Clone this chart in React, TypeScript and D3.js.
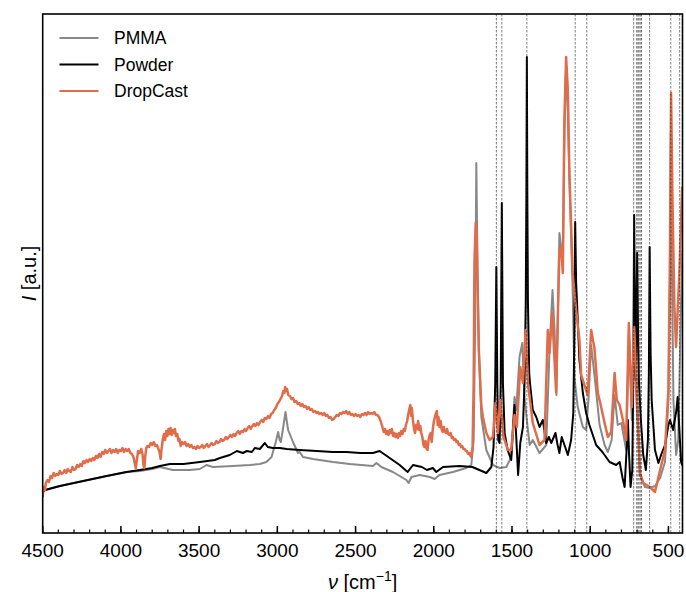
import React from "react";
import * as d3 from "d3";

// wavenumber (cm^-1), intensity (a.u.)
const pmma: [number, number][] = [
  [4500,41],[4485,43],[4390,47],[4241,52],[4091,57],[3964,61],[3878,62],[3800,64],[3751,66],[3668,63],[3560,63],[3495,64],[3453,68],[3412,66],[3284,67],[3176,68],[3112,69],[3070,71],[3037,76],[3010,91],[2995,101],[2985,93],[2978,91],[2965,103],[2948,121],[2940,112],[2931,103],[2900,91],[2868,80],[2857,81],[2836,76],[2772,74],[2644,71],[2537,69],[2389,67],[2367,70],[2335,66],[2261,61],[2175,53],[2161,50],[2143,56],[2090,58],[2025,56],[1995,54],[1963,58],[1878,61],[1792,65],[1760,68],[1745,93],[1736,200],[1728,370],[1720,260],[1712,183],[1696,116],[1664,83],[1622,68],[1579,65],[1536,66],[1505,76],[1484,136],[1473,123],[1452,176],[1434,190],[1420,136],[1405,113],[1387,88],[1367,93],[1324,80],[1281,88],[1260,183],[1241,243],[1228,203],[1216,138],[1197,300],[1175,273],[1165,400],[1154,468],[1143,420],[1133,353],[1112,243],[1101,156],[1080,126],[1047,106],[1026,103],[1011,133],[994,188],[973,158],[940,108],[908,88],[887,81],[863,93],[844,138],[824,108],[801,110],[770,83],[753,198],[734,113],[719,188],[702,123],[682,58],[650,46],[618,45],[586,47],[553,55],[522,71],[500,133],[490,250],[485,400],[480,300],[468,133],[451,78],[437,93],[419,233],[410,283]
];

const powder: [number, number][] = [
  [4500,41],[4485,43],[4390,47],[4241,52],[4091,57],[3964,61],[3878,63],[3800,65],[3751,67],[3687,69],[3600,69],[3495,71],[3400,73],[3367,75],[3304,78],[3259,82],[3220,80],[3195,82],[3163,81],[3144,85],[3112,84],[3080,90],[3061,86],[3029,85],[2984,85],[2940,84],[2857,83],[2750,82],[2644,81],[2559,81],[2470,80],[2389,80],[2346,82],[2282,75],[2218,68],[2167,61],[2133,68],[2076,66],[2044,63],[2006,65],[1984,61],[1941,66],[1836,67],[1753,66],[1664,60],[1632,66],[1618,86],[1607,150],[1600,266],[1594,150],[1588,93],[1579,90],[1572,150],[1565,330],[1558,150],[1547,100],[1528,83],[1505,73],[1484,128],[1475,103],[1461,58],[1447,90],[1430,106],[1420,150],[1412,230],[1408,340],[1405,476],[1402,340],[1398,230],[1390,160],[1385,150],[1367,123],[1345,116],[1324,106],[1303,113],[1281,90],[1264,96],[1249,90],[1222,100],[1211,90],[1197,80],[1182,96],[1158,85],[1143,78],[1122,93],[1108,120],[1101,200],[1096,311],[1090,250],[1085,233],[1069,173],[1047,140],[1026,120],[1005,108],[962,88],[922,81],[876,71],[834,68],[812,71],[793,55],[780,46],[765,90],[759,113],[752,80],[742,46],[731,63],[725,150],[719,318],[713,200],[708,153],[700,280],[694,200],[689,153],[676,113],[661,78],[644,63],[631,93],[625,160],[620,286],[614,180],[607,133],[586,83],[564,70],[547,78],[522,88],[500,108],[490,113],[470,103],[449,123],[441,136],[430,103],[419,71],[410,67]
];

const dropCast: [number, number][] = [
  [4500,36],[4495,44],[4490,46],[4485,43],[4480,50],[4470,53],[4460,51],[4450,57],[4440,55],[4430,60],[4420,57],[4410,59],[4400,58],[4390,62],[4380,59],[4370,60],[4360,63],[4350,60],[4340,64],[4330,62],[4320,61],[4310,66],[4300,63],[4290,64],[4280,68],[4270,66],[4260,69],[4250,67],[4240,72],[4230,70],[4220,73],[4210,71],[4200,74],[4190,72],[4180,75],[4170,73],[4160,77],[4150,75],[4140,79],[4130,76],[4120,81],[4110,79],[4100,83],[4090,80],[4080,82],[4070,84],[4060,80],[4050,83],[4040,81],[4030,84],[4020,80],[4010,83],[4000,82],[3990,85],[3980,81],[3970,84],[3960,82],[3950,84],[3940,80],[3930,79],[3920,76],[3912,70],[3905,65],[3898,73],[3890,82],[3880,80],[3870,84],[3862,79],[3856,68],[3850,65],[3845,76],[3838,85],[3830,87],[3820,86],[3810,90],[3800,88],[3790,91],[3780,87],[3770,88],[3760,84],[3752,80],[3746,74],[3740,84],[3732,94],[3725,99],[3718,93],[3710,102],[3703,97],[3696,104],[3690,99],[3683,105],[3676,98],[3670,103],[3662,100],[3655,104],[3648,97],[3640,99],[3632,92],[3625,94],[3618,87],[3610,91],[3600,89],[3590,91],[3580,87],[3570,89],[3560,86],[3550,88],[3540,85],[3530,86],[3520,84],[3510,87],[3500,85],[3490,86],[3480,88],[3470,85],[3460,87],[3450,89],[3440,86],[3430,88],[3420,90],[3410,88],[3400,89],[3390,92],[3380,90],[3370,91],[3360,94],[3350,92],[3340,93],[3330,96],[3320,94],[3310,96],[3300,98],[3290,96],[3280,99],[3270,97],[3260,100],[3250,102],[3240,99],[3230,102],[3220,101],[3210,104],[3200,102],[3190,105],[3180,107],[3170,104],[3160,107],[3150,109],[3140,107],[3130,110],[3120,108],[3110,111],[3100,113],[3090,111],[3080,115],[3070,114],[3060,117],[3050,115],[3040,119],[3030,120],[3020,123],[3010,125],[3000,129],[2990,131],[2980,134],[2970,137],[2962,142],[2955,140],[2950,146],[2944,142],[2938,144],[2930,138],[2920,137],[2910,134],[2900,135],[2890,131],[2880,132],[2870,129],[2860,130],[2850,127],[2840,129],[2830,126],[2820,127],[2810,124],[2800,126],[2790,123],[2780,124],[2770,121],[2760,122],[2750,120],[2740,121],[2730,119],[2720,120],[2710,118],[2700,120],[2690,117],[2680,118],[2670,115],[2660,116],[2650,113],[2640,114],[2630,116],[2620,118],[2610,117],[2600,120],[2590,119],[2580,121],[2570,120],[2560,122],[2550,119],[2540,121],[2530,118],[2520,119],[2510,117],[2500,119],[2490,117],[2480,118],[2470,116],[2460,119],[2450,118],[2440,120],[2430,118],[2420,121],[2410,119],[2400,120],[2390,119],[2380,121],[2370,118],[2360,118],[2350,116],[2340,112],[2330,107],[2320,101],[2312,104],[2305,99],[2298,102],[2290,98],[2282,103],[2275,100],[2268,104],[2260,97],[2252,100],[2245,96],[2238,99],[2230,95],[2222,100],[2215,97],[2208,102],[2200,99],[2192,104],[2185,102],[2178,108],[2170,112],[2163,119],[2156,124],[2150,128],[2145,117],[2140,125],[2133,112],[2126,104],[2120,100],[2113,108],[2106,104],[2100,112],[2093,103],[2086,107],[2080,100],[2073,96],[2066,88],[2060,86],[2053,92],[2046,84],[2040,83],[2033,93],[2026,98],[2020,100],[2013,91],[2006,104],[2000,111],[1993,116],[1986,120],[1980,122],[1975,108],[1970,116],[1963,106],[1956,112],[1950,104],[1943,101],[1936,106],[1930,102],[1922,100],[1915,104],[1908,99],[1900,98],[1892,100],[1885,95],[1878,96],[1870,93],[1862,94],[1855,91],[1848,92],[1840,88],[1832,89],[1825,86],[1818,87],[1810,84],[1802,84],[1795,82],[1788,82],[1780,79],[1772,80],[1765,77],[1760,76],[1752,86],[1745,150],[1740,270],[1732,310],[1726,300],[1718,230],[1712,183],
  [1696,127],[1686,116],[1664,100],[1643,93],[1622,96],[1605,130],[1590,100],[1575,133],[1554,96],[1526,83],[1505,83],[1484,118],[1469,106],[1447,166],[1430,150],[1413,203],[1398,150],[1367,110],[1324,88],[1292,93],[1271,203],[1260,180],[1243,220],[1218,141],[1197,283],[1186,286],[1175,260],[1165,413],[1154,476],[1143,443],[1133,360],[1112,260],[1090,223],[1069,193],[1058,158],[1037,148],[1015,138],[994,203],[973,185],[951,140],[930,126],[908,110],[887,96],[866,101],[844,160],[830,133],[812,128],[791,113],[770,93],[753,210],[734,126],[719,206],[704,153],[692,103],[682,60],[661,50],[618,46],[586,41],[553,63],[522,83],[500,143],[490,283],[483,440],[474,333],[462,226],[451,186],[430,260],[412,346]
];

const markerLines = [1600, 1565, 1405, 1096, 1022, 722, 703, 695, 688, 680, 672, 620, 485, 428];
const majorTicks = [4500, 4000, 3500, 3000, 2500, 2000, 1500, 1000, 500];
const minorTicks = d3.range(4500, 450, -100);

const seriesNames = ["PMMA", "Powder", "DropCast"];
const seriesColors = ["#888888", "#000000", "#e06c4a"];
const seriesWidths = [2, 2, 2.5];
const seriesData = [pmma, powder, dropCast];

const W = 686, H = 592;
const L = 42.7, R = 682.5, T = 14, B = 533;

export default function App() {
  const x = d3.scaleLinear().domain([4500, 410]).range([L, R]);
  const y = d3.scaleLinear().domain([0, 519]).range([B, T]);
  const line = d3.line<[number, number]>().x(d => x(d[0])).y(d => y(d[1]));
  const font = "'Liberation Sans', Arial, sans-serif";
  return (
    <div style={{ position: "absolute", left: 0, top: 0 }}>
      <svg width={W} height={H} style={{ display: "block", background: "#fff" }} fontFamily={font}>
        <defs>
          <clipPath id="plotclip"><rect x={L} y={T} width={R - L} height={B - T} /></clipPath>
        </defs>
        <g clipPath="url(#plotclip)">
          {seriesData.map((d, i) => (
            <path key={i} d={line(d) || ""} fill="none" stroke={seriesColors[i]} strokeWidth={seriesWidths[i]} strokeLinejoin="round" />
          ))}
          {markerLines.map((m, i) => (
            <line key={i} x1={x(m)} x2={x(m)} y1={T} y2={B} stroke="#222" strokeWidth={0.6} strokeDasharray="2.5,1.5" />
          ))}
        </g>
        {minorTicks.map(t => (
          <line key={"m" + t} x1={x(t)} x2={x(t)} y1={B} y2={B - 3.5} stroke="#000" strokeWidth={1.2} />
        ))}
        {majorTicks.map(t => (
          <g key={"M" + t}>
            <line x1={x(t)} x2={x(t)} y1={B} y2={B - 7} stroke="#000" strokeWidth={1.5} />
            <text x={x(t)} y={557} textAnchor="middle" fontSize={19} fill="#000">{t}</text>
          </g>
        ))}
        <rect x={L} y={T} width={R - L} height={B - T} fill="none" stroke="#000" strokeWidth={1.6} />
        <text x={(L + R) / 2} y={589} textAnchor="middle" fontSize={20} fill="#000">
          <tspan fontStyle="italic">ν</tspan> [cm<tspan dy={-8} fontSize={14}>−1</tspan><tspan dy={8}>]</tspan>
        </text>
        <text transform={`translate(36,${(T + B) / 2}) rotate(-90)`} textAnchor="middle" fontSize={20} fill="#000">
          <tspan fontStyle="italic">I</tspan> [a.u.]
        </text>
        {seriesNames.map((n, i) => (
          <g key={n}>
            <line x1={59.5} x2={98.5} y1={38 + i * 26.5} y2={38 + i * 26.5} stroke={seriesColors[i]} strokeWidth={1.8} />
            <text x={114} y={38 + i * 26.5 + 6} fontSize={17.5} fill="#000">{n}</text>
          </g>
        ))}
      </svg>
    </div>
  );
}
